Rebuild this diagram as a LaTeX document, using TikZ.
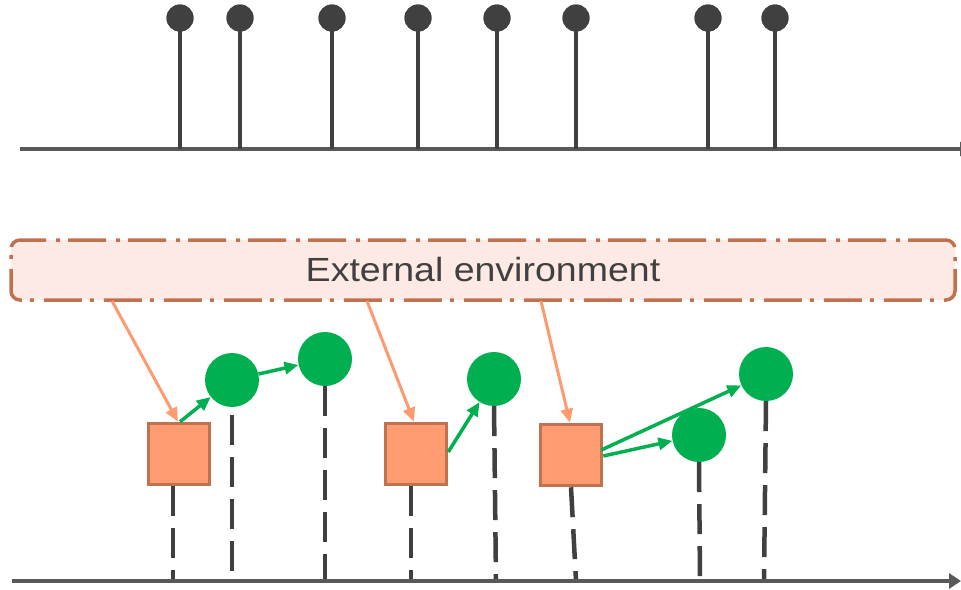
\documentclass[tikz,border=0pt]{standalone}
\usepackage{fontspec}
\setmainfont{Liberation Sans}
\usetikzlibrary{arrows.meta,calc}
\definecolor{stemc}{HTML}{404040}
\definecolor{axisc}{HTML}{595959}
\definecolor{envfill}{HTML}{FDEAE4}
\definecolor{envdraw}{HTML}{C0714F}
\definecolor{sqfill}{HTML}{FF9B71}
\definecolor{grn}{HTML}{00B050}
\definecolor{orarrow}{HTML}{FF9A6E}
\definecolor{txtc}{HTML}{404040}
\tikzset{
  axisline/.style={draw=axisc, line width=4pt},
  stemline/.style={draw=stemc, line width=4.5pt},
  stemdot/.style={circle, fill=stemc, minimum size=27pt, inner sep=0pt},
  envbox/.style={draw=envdraw, fill=envfill, line width=3.5pt, rounded corners=9pt,
    dash pattern=on 38pt off 8pt on 4pt off 10pt, minimum width=944pt, minimum height=60pt,
    inner sep=0pt, text=txtc, font=\fontsize{33.5}{40}\selectfont},
  sqbox/.style={rectangle, draw=envdraw, fill=sqfill, line width=3.5pt, minimum size=61pt, inner sep=0pt},
  gdot/.style={circle, fill=grn, minimum size=54pt, inner sep=0pt},
  orarr/.style={draw=orarrow, line width=3pt, -{Triangle[length=14pt,width=12pt]}},
  grarr/.style={draw=grn, line width=3.5pt, -{Triangle[length=14pt,width=12pt]}},
  dashline/.style={draw=stemc, line width=4.5pt, dash pattern=on 30pt off 12pt},
}
\begin{document}
\begin{tikzpicture}[x=1pt,y=-1pt]
\useasboundingbox (0,0) rectangle (961,589);
\clip (0,0) rectangle (961,589);
% top axis
\coordinate (ta0) at (20,149);
\coordinate (ta1) at (972,149);
\draw[axisline, -{Triangle[length=12pt,width=14pt]}] (ta0) -- (ta1);
% stems
\foreach \x [count=\i] in {180,240,332,418,497,576,708,775}{
  \node[stemdot] (p\i) at (\x,18) {};
  \coordinate (b\i) at (\x,149);
  \draw[stemline] (p\i.center) -- (b\i);
  \node[stemdot] at (\x,18) {};
}
% external environment
\node[envbox] (env) at (483,270) {\scalebox{1.12}[1]{External environment}};
% squares
\node[sqbox] (s1) at (179,454) {};
\node[sqbox] (s2) at (416,454) {};
\node[sqbox] (s3) at (571,455) {};
% green circles
\node[gdot] (c1) at (232,380) {};
\node[gdot] (c2) at (325,359) {};
\node[gdot] (c3) at (494,379) {};
\node[gdot] (c4) at (766,374) {};
\node[gdot] (c5) at (699,435) {};
% bottom axis
\coordinate (ba0) at (12,581);
\coordinate (ba1) at (961,581);
% dashed projections
\coordinate (d1) at (173,581);
\coordinate (d2) at (232,581);
\coordinate (d3) at (325,581);
\coordinate (d4) at (411,581);
\coordinate (d5) at (496,581);
\coordinate (d6) at (576,581);
\coordinate (d7) at (700,581);
\coordinate (d8) at (764,581);
\draw[dashline] (s1.south -| d1) -- (d1);
\draw[dashline] ([yshift=-8pt]c1.south) -- (d2);
\draw[dashline] (c2.south) -- (d3);
\draw[dashline] (s2.south -| d4) -- (d4);
\draw[dashline] (c3.south) -- (d5);
\draw[dashline] (s3.south) -- (d6);
\draw[dashline] (c5.south) -- (d7);
\draw[dashline] (c4.south) -- (d8);
\draw[axisline, -{Triangle[length=12pt,width=15pt]}] (ba0) -- (ba1);
% orange arrows
\coordinate (o1) at (112,301);
\coordinate (o2) at (367,301);
\coordinate (o3) at (541,301);
\draw[orarr] (o1) -- ($(s1.north)+(-1,0)$);
\draw[orarr] (o2) -- ($(s2.north)+(-2,0)$);
\draw[orarr] (o3) -- ($(s3.north)+(-1,0)$);
% green arrows
\draw[grarr] ($(s1.north)+(1,0)$) -- (c1);
\draw[grarr] (c1) -- (c2);
\draw[grarr] ($(s2.east)+(0,-2)$) -- (c3);
\draw[grarr] ($(s3.east)+(-2,-5)$) -- (c4);
\draw[grarr] ($(s3.east)+(0,1)$) -- (c5);
\end{tikzpicture}
\end{document}
